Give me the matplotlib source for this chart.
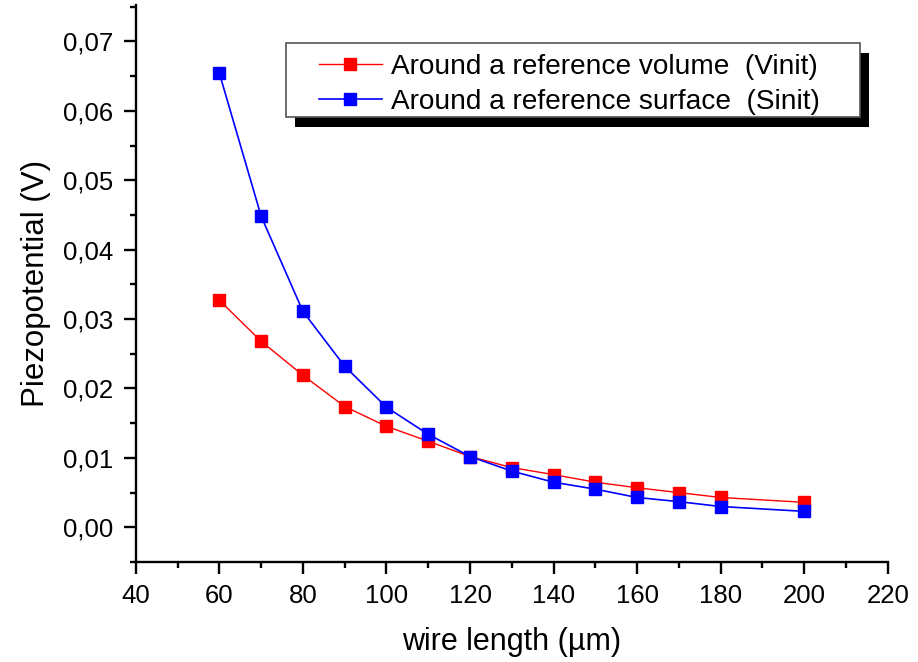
import numpy as np
import matplotlib
matplotlib.use('Agg')
import matplotlib.pyplot as plt
from matplotlib.ticker import MultipleLocator, FuncFormatter
from matplotlib.patches import Rectangle
from matplotlib.transforms import IdentityTransform

plt.rcParams['font.family'] = ['Liberation Sans', 'DejaVu Sans']

# data
length = [60, 70, 80, 90, 100, 110, 120, 130, 140, 150, 160, 170, 180, 200]
vinit = [0.0327, 0.0268, 0.0219, 0.0174, 0.01455, 0.0124, 0.0102, 0.0086,
         0.0076, 0.0065, 0.0057, 0.0050, 0.0043, 0.0036]
sinit = [0.0654, 0.0448, 0.0311, 0.0232, 0.0173, 0.0134, 0.0102, 0.0081,
         0.0065, 0.0055, 0.0043, 0.0037, 0.0030, 0.0023]
labels = ['Around a reference volume  (Vinit)',
          'Around a reference surface  (Sinit)']

fig = plt.figure(figsize=(9.18, 6.62), dpi=100)
ax = fig.add_axes([0.148, 0.151, 0.819, 0.841])

ax.plot(length, vinit, color='#ff0000', lw=1, marker='s', ms=8.2,
        mec='#ff0000', mfc='#ff0000', label=labels[0])
ax.plot(length, sinit, color='#0000ff', lw=1.2, marker='s', ms=8.2,
        mec='#0000ff', mfc='#0000ff', label=labels[1])

ax.set_xlim(40, 220)
ax.set_ylim(-0.005, 0.0752)
ax.xaxis.set_major_locator(MultipleLocator(20))
ax.xaxis.set_minor_locator(MultipleLocator(10))
ax.yaxis.set_major_locator(MultipleLocator(0.01))
ax.yaxis.set_minor_locator(MultipleLocator(0.005))
ax.yaxis.set_major_formatter(FuncFormatter(lambda v, p: f'{v:.2f}'.replace('.', ',')))

for s in ['top', 'right']:
    ax.spines[s].set_visible(False)
for s in ['left', 'bottom']:
    ax.spines[s].set_linewidth(1.7)
ax.tick_params(which='major', direction='out', length=8.6, width=1.7,
               labelsize=18.5, pad=7.5)
ax.tick_params(which='minor', direction='out', length=4.3, width=1.7)

ax.set_xlabel('wire length (µm)', fontsize=22, labelpad=13.5)
ax.set_ylabel('Piezopotential (V)', fontsize=22.5, labelpad=8.5)

# legend without frame; frame and shadow drawn around it afterwards
leg = ax.legend(loc='upper left', bbox_to_anchor=(0.2434, 0.912), fontsize=20.2,
                frameon=False, handlelength=2.24, handletextpad=0.32,
                borderpad=0, labelspacing=0.32, borderaxespad=0)
leg.set_zorder(6)

fig.canvas.draw()
bb = leg.get_window_extent()
fx0, fy0 = bb.x0 - 33, bb.y0 - 2
fw, fh = bb.width + 33 + 40, bb.height + 2 + 11
ax.add_patch(Rectangle((fx0 + 9, fy0 - 10), fw, fh, transform=IdentityTransform(),
                       facecolor='black', edgecolor='none', zorder=4.8, clip_on=False))
ax.add_patch(Rectangle((fx0, fy0), fw, fh, transform=IdentityTransform(),
                       facecolor='white', edgecolor='#555555', lw=1.2,
                       zorder=4.9, clip_on=False))

fig.savefig('out.png', dpi=100)
